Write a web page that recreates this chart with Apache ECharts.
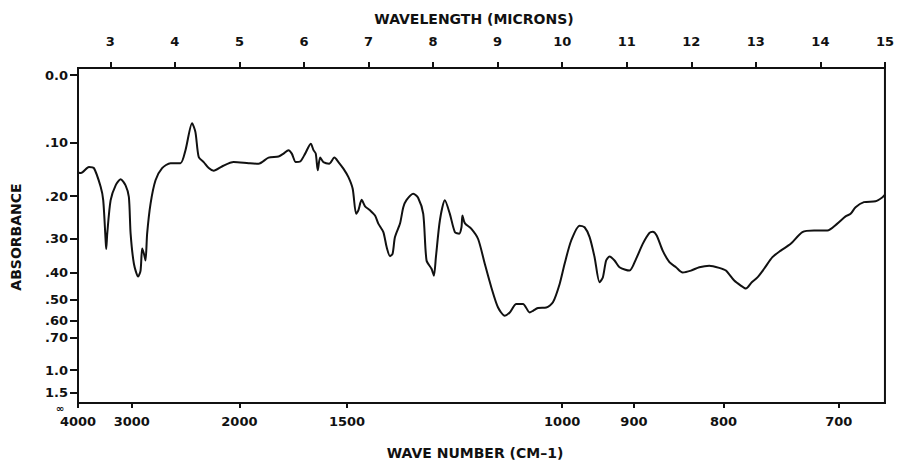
<!DOCTYPE html>
<html><head><meta charset="utf-8">
<script src="https://cdn.jsdelivr.net/npm/echarts@6/dist/echarts.min.js"></script>
<style>html,body{margin:0;padding:0;background:#fff}#c{width:897px;height:462px}</style>
</head><body><div id="c"></div>
<script>
// Wavelength (microns) of each sampled point of the spectrum
const wavelengths = [
 2.50, 2.546, 2.670, 2.747, 2.851, 2.891, 2.928, 2.937, 2.953, 3.005,
 3.083, 3.160, 3.237, 3.288, 3.315, 3.366, 3.432, 3.469, 3.494, 3.520,
 3.546, 3.571, 3.624, 3.701, 3.803, 3.933, 4.087, 4.165, 4.267, 4.319,
 4.370, 4.447, 4.525, 4.602, 4.730, 4.911, 5.143, 5.297, 5.452, 5.607,
 5.684, 5.761, 5.812, 5.874, 5.942, 6.019, 6.106, 6.148, 6.183, 6.214,
 6.251, 6.302, 6.390, 6.472, 6.534, 6.611, 6.689, 6.755, 6.808, 6.843,
 6.894, 6.947, 7.024, 7.101, 7.152, 7.230, 7.281, 7.333, 7.373, 7.410,
 7.488, 7.539, 7.590, 7.693, 7.770, 7.848, 7.899, 7.976, 8.013, 8.044,
 8.106, 8.183, 8.260, 8.338, 8.404, 8.440, 8.455, 8.492, 8.594, 8.698,
 8.801, 8.903, 9.007, 9.110, 9.188, 9.290, 9.393, 9.497, 9.548, 9.625,
 9.754, 9.857, 9.961, 10.038, 10.140, 10.270, 10.347, 10.425, 10.502, 10.579,
 10.630, 10.681, 10.734, 10.811, 10.888, 11.043, 11.145, 11.248, 11.352, 11.403,
 11.464, 11.557, 11.661, 11.763, 11.866, 11.995, 12.124, 12.279, 12.433, 12.536,
 12.665, 12.767, 12.845, 12.937, 13.025, 13.128, 13.257, 13.386, 13.540, 13.721,
 13.901, 14.107, 14.262, 14.390, 14.468, 14.545, 14.674, 14.854, 14.957, 15.0
];
// Absorbance at each wavelength
const absorbance = [
 0.153, 0.154, 0.143, 0.145, 0.181, 0.209, 0.305, 0.328, 0.287, 0.209,
 0.178, 0.166, 0.178, 0.202, 0.287, 0.372, 0.414, 0.394, 0.327, 0.341,
 0.362, 0.287, 0.216, 0.168, 0.145, 0.136, 0.136, 0.113, 0.069, 0.083,
 0.125, 0.134, 0.145, 0.150, 0.142, 0.134, 0.136, 0.137, 0.126, 0.124,
 0.119, 0.113, 0.119, 0.134, 0.133, 0.119, 0.102, 0.113, 0.119, 0.149,
 0.126, 0.134, 0.137, 0.126, 0.134, 0.146, 0.162, 0.185, 0.239, 0.231,
 0.208, 0.222, 0.231, 0.243, 0.262, 0.283, 0.323, 0.349, 0.342, 0.296,
 0.262, 0.224, 0.208, 0.195, 0.204, 0.239, 0.362, 0.388, 0.411, 0.352,
 0.254, 0.209, 0.239, 0.283, 0.287, 0.271, 0.243, 0.261, 0.275, 0.301,
 0.372, 0.453, 0.536, 0.575, 0.559, 0.520, 0.520, 0.559, 0.551, 0.538,
 0.536, 0.513, 0.440, 0.372, 0.305, 0.267, 0.271, 0.296, 0.352, 0.434,
 0.417, 0.362, 0.350, 0.362, 0.383, 0.394, 0.357, 0.314, 0.285, 0.282,
 0.292, 0.333, 0.367, 0.383, 0.400, 0.394, 0.383, 0.378, 0.385, 0.394,
 0.428, 0.446, 0.457, 0.434, 0.417, 0.388, 0.352, 0.333, 0.314, 0.283,
 0.279, 0.279, 0.262, 0.245, 0.239, 0.224, 0.213, 0.211, 0.203, 0.197
];
const wavelengthTicks = [3, 4, 5, 6, 7, 8, 9, 10, 11, 12, 13, 14, 15];
const wavenumberTicks = [4000, 3000, 2000, 1500, 1000, 900, 800, 700];
const absorbanceTicks = [0, 0.1, 0.2, 0.3, 0.4, 0.5, 0.6, 0.7, 1.0, 1.5];
const absorbanceTickLabels = ['0.0', '.10', '.20', '.30', '.40', '.50', '.60', '.70', '1.0', '1.5'];

// Absorbance axis is printed on a transmittance-linear scale: T = 10^-A
const toT = a => Math.pow(10, -a);
const tickT = absorbanceTicks.map(toT);
const seriesData = wavelengths.map((w, i) => [w, toT(absorbance[i])]);

const FONT = 'DejaVu Sans';
const INK = '#111';
const labelStyle = { color: INK, fontFamily: FONT, fontWeight: 'bold', fontSize: 13 };
const titleFont = 'bold 14px "DejaVu Sans"';

const chart = echarts.init(document.getElementById('c'), null, { renderer: 'svg' });
chart.setOption({
  animation: false,
  backgroundColor: '#fff',
  grid: { left: 78, right: 9, top: 68, bottom: 59, show: true, borderColor: INK, borderWidth: 2, backgroundColor: 'transparent' },
  xAxis: [
    {
      type: 'value', position: 'bottom', min: 2.5, max: 15,
      axisLine: { show: true, lineStyle: { color: INK, width: 2 } },
      axisTick: { show: true, inside: false, length: 5, lineStyle: { color: INK, width: 2 },
        customValues: wavenumberTicks.map(n => 10000 / n) },
      axisLabel: Object.assign({}, labelStyle, { margin: 12,
        customValues: wavenumberTicks.map(n => 10000 / n),
        formatter: v => String(Math.round(10000 / v)) }),
      splitLine: { show: false }
    },
    {
      type: 'value', position: 'top', min: 2.5, max: 15,
      axisLine: { show: true, lineStyle: { color: INK, width: 2 } },
      axisTick: { show: true, inside: false, length: 6, lineStyle: { color: INK, width: 2 },
        customValues: wavelengthTicks },
      axisLabel: Object.assign({}, labelStyle, { margin: 20, customValues: wavelengthTicks,
        formatter: v => String(Math.round(v)) }),
      splitLine: { show: false }
    }
  ],
  yAxis: {
    type: 'value', min: 0, max: 1.0214,
    axisLine: { show: true, lineStyle: { color: INK, width: 2 } },
    axisTick: { show: true, inside: false, length: 8, lineStyle: { color: INK, width: 2 },
      customValues: tickT },
    axisLabel: Object.assign({}, labelStyle, { margin: 10, customValues: tickT,
      formatter: v => {
        let best = 0, d = Infinity;
        tickT.forEach((t, i) => { const e = Math.abs(t - v); if (e < d) { d = e; best = i; } });
        return absorbanceTickLabels[best];
      } }),
    splitLine: { show: false }
  },
  graphic: [
    { type: 'text', x: 474, y: 19, style: { text: 'WAVELENGTH (MICRONS)', fill: INK, font: titleFont, align: 'center', verticalAlign: 'middle' } },
    { type: 'text', x: 475, y: 453, style: { text: 'WAVE NUMBER (CM\u20131)', fill: INK, font: titleFont, align: 'center', verticalAlign: 'middle' } },
    { type: 'text', x: 16, y: 237, rotation: Math.PI / 2, style: { text: 'ABSORBANCE', fill: INK, font: titleFont, align: 'center', verticalAlign: 'middle' } },
    { type: 'text', x: 60, y: 408, style: { text: '\u221E', fill: INK, font: 'bold 10px "DejaVu Sans"', align: 'center', verticalAlign: 'middle' } }
  ],
  series: [{
    type: 'line', xAxisIndex: 0, data: seriesData, showSymbol: false, smooth: 0.25,
    lineStyle: { color: INK, width: 2 }, clip: true
  }]
});
</script></body></html>
